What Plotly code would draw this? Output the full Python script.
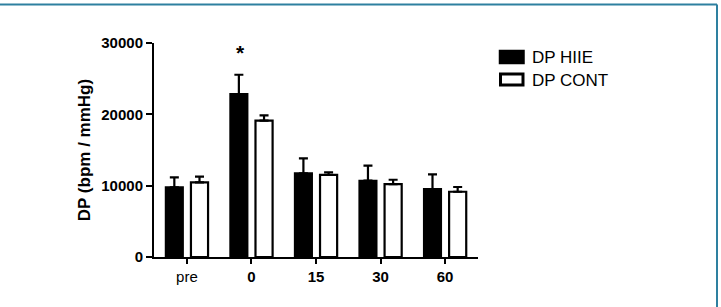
import plotly.graph_objects as go

categories = ["pre", "0", "15", "30", "60"]
tick_labels = ["pre", "<b>0</b>", "<b>15</b>", "<b>30</b>", "<b>60</b>"]
hiie = [9770, 22850, 11730, 10700, 9530]
hiie_err = [1400, 2700, 2100, 2100, 2060]
cont = [10470, 19110, 11500, 10230, 9150]
cont_err = [800, 750, 380, 600, 660]
y_ticks = [0, 10000, 20000, 30000]

W, H = 721, 307
L, R, T, B = 154, 243, 43, 50
pw, ph = W - L - R, H - T - B

def px(x):
    return (x - L) / pw

def py(y):
    return (H - B - y) / ph

FONT = "Liberation Sans, Arial, sans-serif"

fig = go.Figure()
fig.add_trace(go.Bar(
    x=list(range(len(categories))), y=hiie, name="DP HIIE",
    marker=dict(color="black", line=dict(color="black", width=2)),
    error_y=dict(type="data", array=hiie_err, arrayminus=[0]*5, symmetric=False,
                 color="black", thickness=2.2, width=4.5),
))
fig.add_trace(go.Bar(
    x=list(range(len(categories))), y=cont, name="DP CONT",
    marker=dict(color="white", line=dict(color="black", width=2.2)),
    error_y=dict(type="data", array=cont_err, arrayminus=[0]*5, symmetric=False,
                 color="black", thickness=2.2, width=4.5),
))

# significance marker
fig.add_annotation(x=1, y=hiie[1] + hiie_err[1], text="<b>*</b>", showarrow=False,
                   xshift=-10.5, yshift=22, font=dict(size=21, color="black", family=FONT))

shapes = []
# custom legend
shapes.append(dict(type="rect", xref="paper", yref="paper",
                   x0=px(500), x1=px(523.5), y0=py(63), y1=py(51),
                   fillcolor="black", line=dict(color="black", width=2.5)))
shapes.append(dict(type="rect", xref="paper", yref="paper",
                   x0=px(500.5), x1=px(523), y0=py(85), y1=py(74),
                   fillcolor="white", line=dict(color="black", width=3)))
for txt, yy in [("DP HIIE", 58), ("DP CONT", 80)]:
    fig.add_annotation(xref="paper", yref="paper", x=px(530), y=py(yy), text=txt,
                       showarrow=False, xanchor="left", yanchor="middle",
                       font=dict(size=17, color="black", family=FONT))
# frame border (top and right)
shapes.append(dict(type="line", xref="paper", yref="paper",
                   x0=px(0), x1=px(717), y0=py(4.5), y1=py(4.5),
                   line=dict(color="#2e80a0", width=2)))
shapes.append(dict(type="line", xref="paper", yref="paper",
                   x0=px(717), x1=px(717), y0=py(4.5), y1=py(310),
                   line=dict(color="#2e80a0", width=2)))

fig.update_layout(
    width=W, height=H, margin=dict(l=L, r=R, t=T, b=B),
    paper_bgcolor="white", plot_bgcolor="white",
    barmode="group", bargap=0.22, bargroupgap=0.32,
    showlegend=False, shapes=shapes,
    font=dict(family=FONT, color="black"),
    xaxis=dict(range=[-0.51, 4.51], tickmode="array",
               tickvals=list(range(len(categories))), ticktext=tick_labels,
               showline=True, linecolor="black", linewidth=2,
               ticks="outside", ticklen=5, tickwidth=2, tickcolor="black",
               tickfont=dict(size=15), showgrid=False, zeroline=False, fixedrange=True),
    yaxis=dict(range=[0, 30000], tickmode="array", tickvals=y_ticks,
               ticktext=[f"<b>{v}</b>" for v in y_ticks],
               showline=True, linecolor="black", linewidth=2,
               ticks="outside", ticklen=6, tickwidth=2, tickcolor="black",
               tickfont=dict(size=15), showgrid=False, zeroline=False,
               title=dict(text="<b>DP (bpm / mmHg)</b>", font=dict(size=17), standoff=6),
               fixedrange=True),
)

fig.write_html("out.html")
